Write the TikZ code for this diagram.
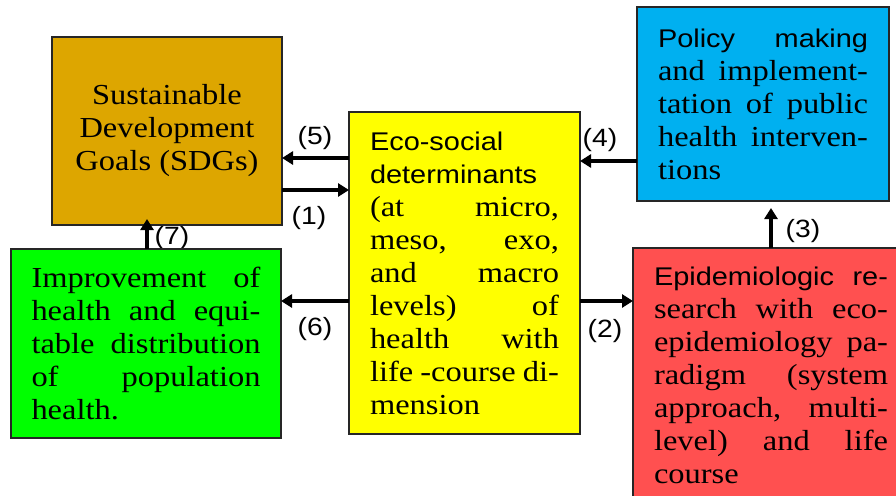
\documentclass[tikz,border=0pt]{standalone}
\usepackage{fontspec}
\setmainfont{Liberation Serif}[FakeStretch=1.12]
\setsansfont{Liberation Sans}[FakeStretch=1.13]
\usetikzlibrary{arrows.meta}
\definecolor{sdgc}{RGB}{221,166,0}
\definecolor{yelc}{RGB}{255,255,0}
\definecolor{bluc}{RGB}{0,176,240}
\definecolor{grnc}{RGB}{0,255,0}
\definecolor{redc}{RGB}{255,80,80}
\setlength{\parindent}{0pt}
\newcommand\J[1]{{\spaceskip=0pt\xspaceskip=0pt\relax\makebox[\linewidth][s]{#1}}}
\newcommand\SF{\fontsize{25.6}{33}\sffamily\selectfont}
\newcommand\RM{\fontsize{29}{33}\rmfamily\selectfont}
\begin{document}
\begin{tikzpicture}[x=1pt,y=-1pt,
  box/.style={draw=black!85, line width=1.3pt, inner sep=0pt, outer sep=0pt, align=left, font=\RM},
  arr/.style={line width=3.5pt, -{Triangle[length=11pt,width=13pt]}},
  lab/.style={font=\fontsize{25}{30}\sffamily\selectfont, inner sep=0pt}]
\fill[white] (0,0) rectangle (896,495);
\useasboundingbox (0,0) rectangle (896,495);
\clip (0,0) rectangle (896,495);
% helper coordinates
\coordinate (h5) at (0,158);
\coordinate (h1) at (0,190);
\coordinate (h4) at (0,161);
\coordinate (h2) at (0,301);
\coordinate (v7) at (147,0);
\coordinate (v3) at (771,0);
% labels
\node[lab] (l5) at (315,138) {(5)};
\node[lab] (l1) at (309,218) {(1)};
\node[lab] (l7) at (172,238) {(7)};
\node[lab] (l4) at (600,140) {(4)};
\node[lab] (l2) at (605,331) {(2)};
\node[lab] (l6) at (315,329) {(6)};
\node[lab] (l3) at (803,231) {(3)};
% boxes
\node[box, fill=sdgc, minimum width=230pt, minimum height=188pt, align=center] (sdg) at (167,131)
  {Sustainable\\Development\\Goals (SDGs)};
\node[box, fill=yelc, minimum width=231pt, minimum height=322pt, text width=189pt] (yel) at (464.5,273)
  {\SF Eco-social\\
   determinants\\
   \RM\J{(at micro,}\\
   \J{meso, exo,}\\
   \J{and macro}\\
   \J{levels) of}\\
   \J{health with}\\
   \J{life -course di-}\\
   mension};
\node[box, fill=bluc, minimum width=252pt, minimum height=194pt, text width=210pt] (blu) at (763,104)
  {\SF\J{Policy making}\\
   \RM\J{and implement-}\\
   \J{tation of public}\\
   \J{health interven-}\\
   tions};
\node[box, fill=grnc, minimum width=270pt, minimum height=189pt, text width=229pt] (grn) at (146,343.5)
  {\J{Improvement of}\\
   \J{health and equi-}\\
   \J{table distribution}\\
   \J{of population}\\
   health.};
\node[box, fill=redc, minimum width=276pt, minimum height=254pt, text width=234pt] (red) at (771,375)
  {\SF\J{Epidemiologic re-}\\
   \RM\J{search with eco-}\\
   \J{epidemiology pa-}\\
   \J{radigm (system}\\
   \J{approach, multi-}\\
   \J{level) and life}\\
   course};
% connectors
\draw[arr] (yel.west |- h5) -- (sdg.east |- h5);
\draw[arr] (sdg.east |- h1) -- (yel.west |- h1);
\draw[arr] (blu.west |- h4) -- (yel.east |- h4);
\draw[arr] (yel.east |- h2) -- (red.west |- h2);
\draw[arr] (yel.west |- h2) -- (grn.east |- h2);
\draw[arr, shorten >=-6pt] (grn.north -| v7) -- (sdg.south -| v7);
\draw[arr, shorten >=7pt] (red.north -| v3) -- (blu.south -| v3);
\end{tikzpicture}
\end{document}
